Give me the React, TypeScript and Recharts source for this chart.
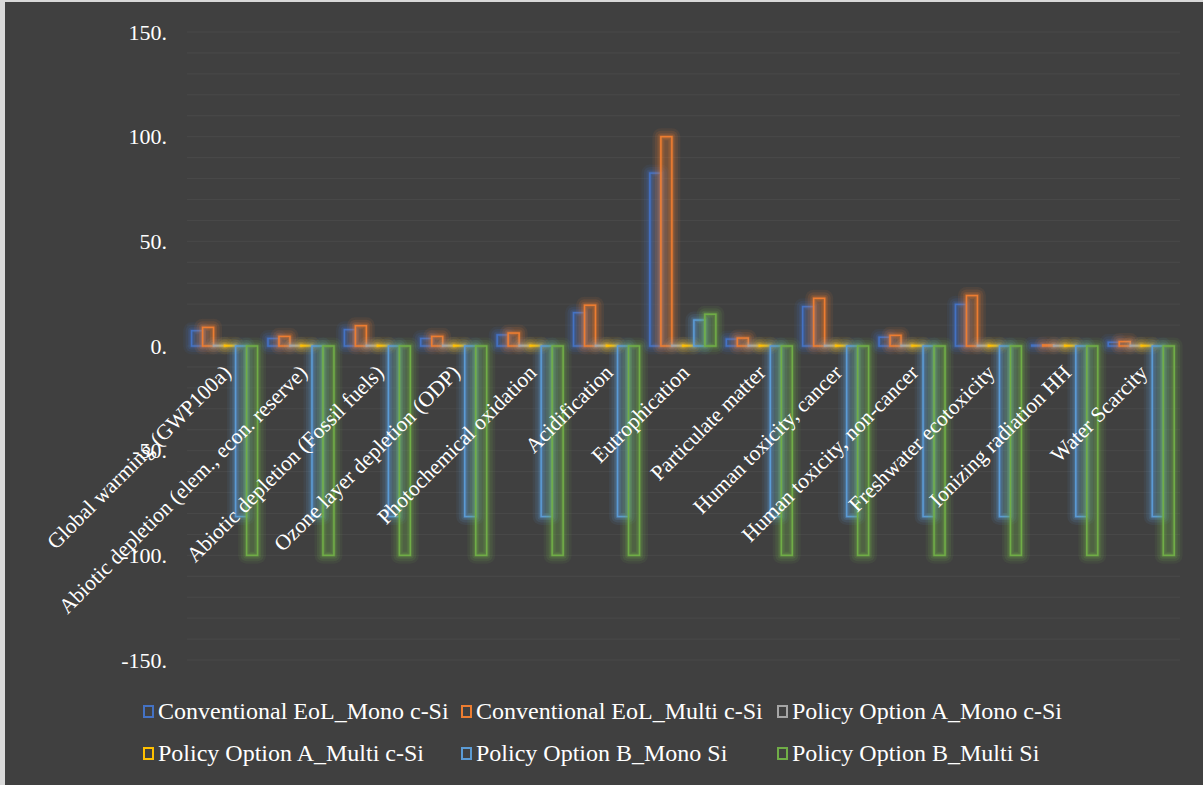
import { BarChart, Bar, XAxis, YAxis, CartesianGrid } from 'recharts';

const categories = [
  'Global warming (GWP100a)',
  'Abiotic depletion (elem., econ. reserve)',
  'Abiotic depletion (Fossil fuels)',
  'Ozone layer depletion (ODP)',
  'Photochemical oxidation',
  'Acidification',
  'Eutrophication',
  'Particulate matter',
  'Human toxicity, cancer',
  'Human toxicity, non-cancer',
  'Freshwater ecotoxicity',
  'Ionizing radiation HH',
  'Water Scarcity',
];

const conventionalMono = [7.3, 3.6, 7.8, 3.6, 5.3, 15.9, 82.6, 3.3, 18.8, 4.2, 19.9, 0.4, 1.8];
const conventionalMulti = [8.9, 4.6, 9.7, 4.6, 6.2, 19.5, 100, 3.8, 22.8, 5.1, 24.1, 0.5, 2.1];
const optionAMono = [0.3, 0.3, 0.3, 0.3, 0.3, 0.3, 0.3, 0.3, 0.3, 0.3, 0.3, 0.3, 0.3];
const optionAMulti = [0.3, 0.3, 0.3, 0.3, 0.3, 0.3, 0.3, 0.3, 0.3, 0.3, 0.3, 0.3, 0.3];
const optionBMono = [-81.5, -81.5, -81.5, -81.5, -81.5, -81.5, 12.4, -81.5, -81.5, -81.5, -81.5, -81.5, -81.5];
const optionBMulti = [-100, -100, -100, -100, -100, -100, 15.2, -100, -100, -100, -100, -100, -100];

const yTicks = [-150, -140, -130, -120, -110, -100, -90, -80, -70, -60, -50, -40, -30, -20, -10, 0,
  10, 20, 30, 40, 50, 60, 70, 80, 90, 100, 110, 120, 130, 140, 150];

const series = [
  { key: 'convMono', name: 'Conventional EoL_Mono c-Si', color: '#4472C4', values: conventionalMono },
  { key: 'convMulti', name: 'Conventional EoL_Multi c-Si', color: '#ED7D31', values: conventionalMulti },
  { key: 'aMono', name: 'Policy Option A_Mono c-Si', color: '#A5A5A5', values: optionAMono },
  { key: 'aMulti', name: 'Policy Option A_Multi c-Si', color: '#FFC000', values: optionAMulti },
  { key: 'bMono', name: 'Policy Option B_Mono Si', color: '#5B9BD5', values: optionBMono },
  { key: 'bMulti', name: 'Policy Option B_Multi Si', color: '#70AD47', values: optionBMulti },
];

const data = categories.map((name, i) => {
  const row: Record<string, string | number> = { name };
  series.forEach((s) => { row[s.key] = s.values[i]; });
  return row;
});

const W = 1198;
const H = 783;
const MARGIN = { top: 30, right: 23, bottom: 124, left: 0 };
const PLOT_H = H - MARGIN.top - MARGIN.bottom - 1;
const FONT = '"Liberation Serif", "Times New Roman", serif';

// soft halo: a few widening, fading outlines behind the bar
const HALO = [
  { w: 17, o: 0.08 },
  { w: 12, o: 0.12 },
  { w: 7, o: 0.17 },
  { w: 4, o: 0.22 },
];

// outlined bar with a glow in its own colour
function GlowBar(props: any) {
  let { x, y, width, height } = props;
  const color = props.glowColor;
  if (height < 0) { y += height; height = -height; }
  return (
    <g>
      {HALO.map((h) => (
        <rect key={h.w} x={x} y={y} width={width} height={height} fill="none" stroke={color}
          strokeWidth={h.w} strokeOpacity={h.o} strokeLinejoin="round" />
      ))}
      <rect x={x} y={y} width={width} height={height} fill={color} fillOpacity={0.15}
        stroke={color} strokeWidth={1.6} />
    </g>
  );
}

// category labels sit on the zero line, not at the bottom of the plot
const CategoryTick = (props: any) => {
  const { x, y, payload } = props;
  const tx = x + 7;
  const ty = y - PLOT_H / 2 + 28;
  return (
    <text x={tx} y={ty} transform={`rotate(-45, ${tx}, ${ty})`} textAnchor="end"
      fill="#ffffff" fontSize={21.5} fontFamily={FONT}>
      {payload.value}
    </text>
  );
};

export default function App() {
  return (
    <div style={{ position: 'fixed', left: 0, top: 0, width: 1203, height: 785, background: '#d9d9d9' }}>
      <div style={{ position: 'absolute', left: 5, top: 2, width: W, height: H, background: '#404040' }}>
        <BarChart width={W} height={H} data={data} margin={MARGIN} barGap={0} barCategoryGap="6%">
          <CartesianGrid horizontal vertical={false} stroke="#494949" strokeWidth={1} />
          <XAxis dataKey="name" height={1} axisLine={false} tickLine={false} tickSize={0}
            tickMargin={0} interval={0} tick={<CategoryTick />} />
          <YAxis width={182} domain={[-150, 150]} ticks={yTicks} interval={0} axisLine={false}
            tickLine={false} tickSize={0} tickMargin={20}
            tickFormatter={(v: number) => (v % 50 === 0 ? `${v}.` : '')}
            tick={{ fill: '#ffffff', fontSize: 22, fontFamily: FONT }} />
          {series.map((s) => (
            <Bar key={s.key} dataKey={s.key} name={s.name} fill={s.color}
              shape={(p: any) => <GlowBar {...p} glowColor={s.color} />} isAnimationActive={false} />
          ))}
        </BarChart>
        <div style={{ position: 'absolute', left: 138, top: 688, display: 'grid',
          gridTemplateColumns: '318px 316px 316px', fontFamily: FONT, fontSize: 24, color: '#ffffff' }}>
          {series.map((s) => (
            <div key={s.key} style={{ display: 'flex', alignItems: 'center', height: 42, whiteSpace: 'nowrap' }}>
              <span style={{ display: 'inline-block', width: 7, height: 9, border: `2px solid ${s.color}`,
                marginRight: 4 }} />
              <span>{s.name}</span>
            </div>
          ))}
        </div>
      </div>
    </div>
  );
}
